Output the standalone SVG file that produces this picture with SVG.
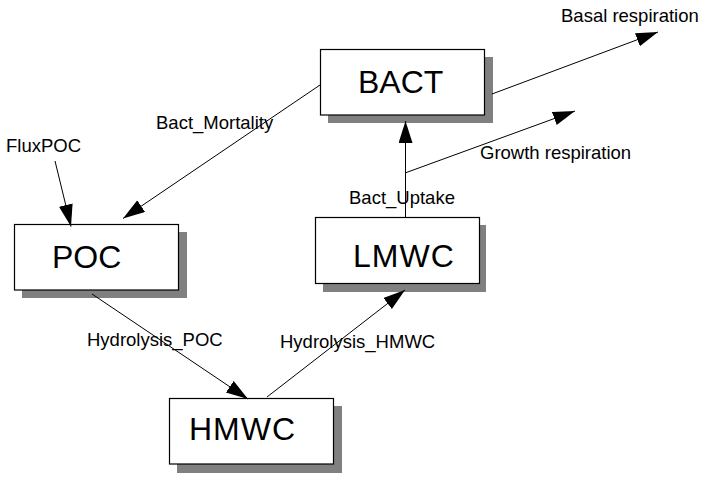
<svg xmlns="http://www.w3.org/2000/svg" width="709" height="481" viewBox="0 0 709 481">
<style>
.box{fill:#fff;stroke:#000;stroke-width:1.2}
.shadow{fill:#808080}
.big{font-family:"Liberation Sans",Arial,sans-serif;font-size:32px;fill:#000}
.lbl{font-family:"Liberation Sans",Arial,sans-serif;font-size:18.5px;fill:#000}
.edge{stroke:#000;stroke-width:1;fill:none}
</style>
<defs>
<marker id="ah" markerUnits="userSpaceOnUse" markerWidth="24" markerHeight="16" refX="22" refY="7" orient="auto">
<path d="M0,0 L22,7 L0,14 z" fill="#000"/>
</marker>
</defs>
<rect width="709" height="481" fill="#fff"/>
<g id="BACT">
<rect class="shadow" x="328" y="57" width="165" height="66"/>
<rect class="box" x="320.5" y="49.5" width="164" height="65.5"/>
<text class="big" x="358" y="93">BACT</text>
</g>
<g id="POC">
<rect class="shadow" x="22" y="232" width="165" height="66"/>
<rect class="box" x="14.5" y="224.5" width="164" height="65.5"/>
<text class="big" x="52" y="268">POC</text>
</g>
<g id="LMWC">
<rect class="shadow" x="323" y="225" width="163" height="67"/>
<rect class="box" x="315.5" y="217.5" width="164" height="66"/>
<text class="big" x="353" y="267" letter-spacing="1">LMWC</text>
</g>
<g id="HMWC">
<rect class="shadow" x="177" y="406" width="165" height="67"/>
<rect class="box" x="169.5" y="398.5" width="164" height="65.5"/>
<text class="big" x="189" y="440" letter-spacing="1">HMWC</text>
</g>
<g id="connectors">
<line class="edge" x1="492" y1="94" x2="658" y2="32" marker-end="url(#ah)"/>
<line class="edge" x1="405" y1="173" x2="575" y2="111" marker-end="url(#ah)"/>
<line class="edge" x1="405.5" y1="217" x2="405.5" y2="121" stroke-width="1.3" marker-end="url(#ah)"/>
<line class="edge" x1="320" y1="85" x2="123" y2="218.5" stroke-width="2" marker-end="url(#ah)"/>
<line class="edge" x1="55" y1="161" x2="71" y2="226.5" marker-end="url(#ah)"/>
<line class="edge" x1="92" y1="294" x2="248" y2="399" marker-end="url(#ah)"/>
<line class="edge" x1="267" y1="397" x2="405" y2="290" marker-end="url(#ah)"/>
</g>
<g id="labels">
<text class="lbl" x="561" y="22">Basal respiration</text>
<text class="lbl" x="480" y="159">Growth respiration</text>
<text class="lbl" x="349" y="204">Bact_Uptake</text>
<text class="lbl" x="156" y="129">Bact_Mortality</text>
<text class="lbl" x="6" y="152">FluxPOC</text>
<text class="lbl" x="87" y="346">Hydrolysis_POC</text>
<text class="lbl" x="280" y="348">Hydrolysis_HMWC</text>
</g>
</svg>
